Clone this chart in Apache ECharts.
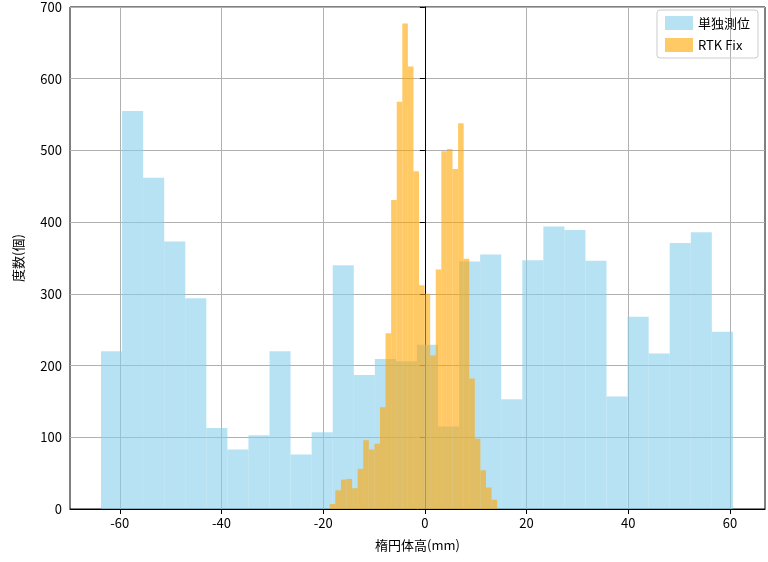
<!DOCTYPE html><html><head><meta charset="utf-8"><script src="https://cdn.jsdelivr.net/npm/echarts@6/dist/echarts.min.js"></script></head><body style="margin:0"><div id="c" style="width:768px;height:562px"></div><script>
const blueStart=-63.7, blueWidth=4.143;
const blueCounts=[220,555,462,373,294,113,83,103,220,76,107,340,187,209,206,229,115,345,355,153,347,394,389,346,157,268,217,371,386,247];
const orangeStart=-18.7, orangeWidth=1.097;
const orangeCounts=[7,26,41,42,29,56,96,83,91,142,245,431,568,677,617,471,312,300,214,334,499,502,474,538,349,182,98,54,30,13];
const xTicks=[-60,-40,-20,0,20,40,60];
const yTicks=[0,100,200,300,400,500,600,700];
function bins(start,w,counts){return counts.map((c,i)=>[start+i*w,start+(i+1)*w,c]);}
function rend(color){return function(params,api){const a=api.coord([api.value(0),api.value(2)]);const b=api.coord([api.value(1),0]);return {type:'rect',shape:{x:a[0],y:a[1],width:b[0]-a[0],height:b[1]-a[1]},style:{fill:color,opacity:0.6}};};}
const font='"Noto Sans CJK JP", sans-serif';
const ch=echarts.init(document.getElementById('c'));
ch.setOption({animation:false,
grid:{left:70,right:3,top:7,bottom:53,show:true,borderColor:'#000',borderWidth:1,backgroundColor:'transparent'},
legend:{right:10,top:10,orient:'vertical',itemWidth:28,itemHeight:14,itemGap:8,borderColor:'#ccc',borderWidth:1,borderRadius:3,padding:[6,8],textStyle:{fontSize:13,fontFamily:font,color:'#000'},data:[{name:'単独測位',icon:'rect'},{name:'RTK Fix',icon:'rect'}]},
xAxis:{type:'value',min:-69.8,max:66.9,name:'楕円体高(mm)',nameLocation:'middle',nameGap:30,nameTextStyle:{fontSize:13,fontFamily:font,color:'#000'},
axisLine:{lineStyle:{color:'#000'}},axisTick:{show:true,customValues:xTicks,length:5,lineStyle:{color:'#000'}},axisLabel:{customValues:xTicks,fontSize:13,color:'#000',fontFamily:font},splitLine:{show:true,lineStyle:{color:'#b0b0b0'}}},
yAxis:{type:'value',min:0,max:700,interval:100,name:'度数(個)',nameLocation:'middle',nameGap:45,nameTextStyle:{fontSize:13,fontFamily:font,color:'#000'},
axisLine:{show:true,lineStyle:{color:'#000'}},axisTick:{show:true,length:5,lineStyle:{color:'#000'}},axisLabel:{fontSize:13,color:'#000',fontFamily:font},splitLine:{show:true,lineStyle:{color:'#b0b0b0'}}},
series:[
{name:'単独測位',type:'custom',renderItem:rend('#87CEEB'),itemStyle:{color:'rgba(135,206,235,0.6)'},encode:{x:[0,1],y:2},data:bins(blueStart,blueWidth,blueCounts)},
{name:'RTK Fix',type:'custom',renderItem:rend('#FFA500'),itemStyle:{color:'rgba(255,165,0,0.6)'},encode:{x:[0,1],y:2},data:bins(orangeStart,orangeWidth,orangeCounts)}
]});
</script></body></html>
